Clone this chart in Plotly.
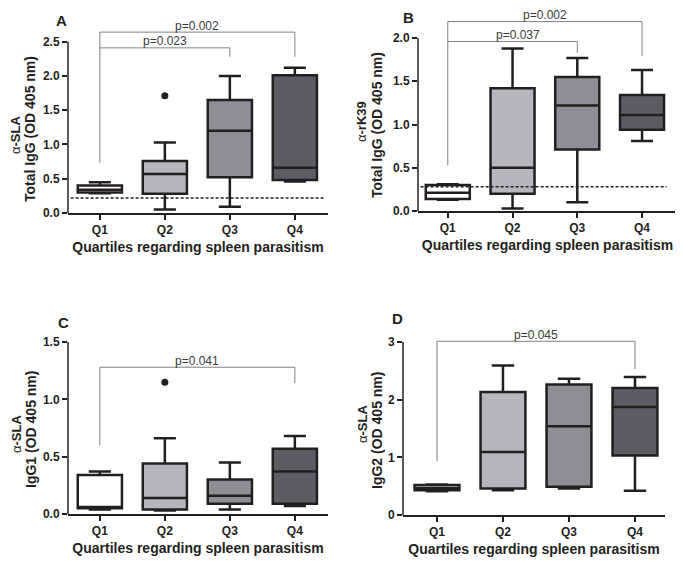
import plotly.graph_objects as go

# ---------------- data ----------------
categories = ["Q1", "Q2", "Q3", "Q4"]
box_colors = ["#ffffff", "#b6b6be", "#8e8e96", "#5c5c64"]

# Panel A: alpha-SLA total IgG
A_low = [0.29, 0.05, 0.09, 0.46]
A_q1 = [0.30, 0.28, 0.52, 0.48]
A_med = [0.34, 0.57, 1.20, 0.66]
A_q3 = [0.40, 0.76, 1.65, 2.01]
A_high = [0.45, 1.03, 2.00, 2.12]
A_out_x = [1]
A_out_y = [1.71]
A_cutoff = 0.22

# Panel B: alpha-rK39 total IgG
B_low = [0.13, 0.03, 0.10, 0.81]
B_q1 = [0.14, 0.20, 0.71, 0.94]
B_med = [0.21, 0.50, 1.22, 1.11]
B_q3 = [0.30, 1.42, 1.55, 1.34]
B_high = [0.31, 1.88, 1.77, 1.63]
B_out_x = []
B_out_y = []
B_cutoff = 0.28

# Panel C: alpha-SLA IgG1
C_low = [0.04, 0.03, 0.04, 0.07]
C_q1 = [0.05, 0.04, 0.09, 0.09]
C_med = [0.06, 0.14, 0.16, 0.37]
C_q3 = [0.34, 0.44, 0.30, 0.57]
C_high = [0.37, 0.66, 0.45, 0.68]
C_out_x = [1]
C_out_y = [1.15]

# Panel D: alpha-SLA IgG2
D_low = [0.41, 0.43, 0.46, 0.42]
D_q1 = [0.43, 0.46, 0.49, 1.03]
D_med = [0.47, 1.09, 1.54, 1.87]
D_q3 = [0.52, 2.13, 2.26, 2.20]
D_high = [0.53, 2.59, 2.36, 2.39]
D_out_x = []
D_out_y = []

# significance brackets: (from, to, bracket level, drop at 'to', label)
A_sig = [(0, 3, 2.64, 2.28, "p=0.002"), (0, 2, 2.41, 2.28, "p=0.023")]
A_sig_q1_drop = 0.73
B_sig = [(0, 3, 2.19, 1.79, "p=0.002"), (0, 2, 1.96, 1.83, "p=0.037")]
B_sig_q1_drop = 0.53
C_sig = [(0, 3, 1.28, 1.14, "p=0.041")]
C_sig_q1_drop = 0.60
D_sig = [(0, 3, 3.01, 2.53, "p=0.045")]
D_sig_q1_drop = 0.93

x_title = "Quartiles regarding spleen parasitism"

# ---------------- layout geometry ----------------
# the page body has an 8px margin, so the figure is drawn 8px in from the
# top-left corner of the window; positions below are window pixels.
OFF = 8
W, H = 683 - OFF, 563 - OFF
FONT = "Liberation Sans, Arial, sans-serif"
INK = "#231f20"


def px(xp):
    return (xp - OFF) / W


def py(yp):
    return 1 - (yp - OFF) / H


panels = [
    dict(key="A", low=A_low, q1=A_q1, med=A_med, q3=A_q3, high=A_high,
         ox=A_out_x, oy=A_out_y, cutoff=A_cutoff, sig=A_sig, drop=A_sig_q1_drop,
         xdom=(68, 328), ydom=(28, 213), xr=(-0.49, 3.51), yr=(0, 2.7),
         ytop=2.5, dtick=0.5, fmt=".1f", ant="α-SLA", yt="Total IgG (OD 405 nm)",
         ant_pos=(15, 135), yt_pos=(30, 129), letter_pos=(61, 20), dash_end=0.99),
    dict(key="B", low=B_low, q1=B_q1, med=B_med, q3=B_q3, high=B_high,
         ox=B_out_x, oy=B_out_y, cutoff=B_cutoff, sig=B_sig, drop=B_sig_q1_drop,
         xdom=(418, 677), ydom=(16.4, 211), xr=(-0.46, 3.54), yr=(0, 2.25),
         ytop=2.0, dtick=0.5, fmt=".1f", ant="α-rK39", yt="Total IgG (OD 405 nm)",
         ant_pos=(361, 122), yt_pos=(377, 125), letter_pos=(408, 17), dash_end=0.96),
    dict(key="C", low=C_low, q1=C_q1, med=C_med, q3=C_q3, high=C_high,
         ox=C_out_x, oy=C_out_y, cutoff=None, sig=C_sig, drop=C_sig_q1_drop,
         xdom=(68, 328), ydom=(342, 514), xr=(-0.49, 3.51), yr=(0, 1.5),
         ytop=1.5, dtick=0.5, fmt=".1f", ant="α-SLA", yt="IgG1 (OD 405 nm)",
         ant_pos=(16, 434), yt_pos=(31, 430), letter_pos=(63, 322), dash_end=0.97),
    dict(key="D", low=D_low, q1=D_q1, med=D_med, q3=D_q3, high=D_high,
         ox=D_out_x, oy=D_out_y, cutoff=None, sig=D_sig, drop=D_sig_q1_drop,
         xdom=(403, 665), ydom=(339, 515), xr=(-0.515, 3.455), yr=(0, 3.05),
         ytop=3, dtick=1, fmt="d", ant="α-SLA", yt="IgG2 (OD 405 nm)",
         ant_pos=(362, 424), yt_pos=(377, 431), letter_pos=(398, 318), dash_end=0.97),
]

fig = go.Figure()
shapes = []
annotations = []
layout_axes = {}

for i, p in enumerate(panels):
    n = "" if i == 0 else str(i + 1)
    xa, ya = "x" + n, "y" + n
    for j, cat in enumerate(categories):
        fig.add_trace(go.Box(
            x=[j], q1=[p["q1"][j]], median=[p["med"][j]], q3=[p["q3"][j]],
            lowerfence=[p["low"][j]], upperfence=[p["high"][j]],
            width=0.68, whiskerwidth=0.5, fillcolor=box_colors[j],
            line=dict(color=INK, width=2.5), boxpoints=False,
            hoverinfo="skip", showlegend=False, xaxis=xa, yaxis=ya,
        ))
    if p["ox"]:
        fig.add_trace(go.Scatter(
            x=p["ox"], y=p["oy"], mode="markers",
            marker=dict(color=INK, size=7), showlegend=False,
            xaxis=xa, yaxis=ya, hoverinfo="skip",
        ))

    nums = []
    v = 0.0
    while v <= p["ytop"] + 1e-9:
        nums.append(round(v, 3))
        v += p["dtick"]

    layout_axes["xaxis" + n] = dict(
        domain=[px(p["xdom"][0]), px(p["xdom"][1])], range=list(p["xr"]),
        anchor=ya, tickvals=list(range(len(categories))), ticktext=categories,
        ticks="outside", ticklen=5, tickwidth=1.5, tickcolor=INK,
        showline=True, linecolor=INK, linewidth=1.5, showgrid=False,
        zeroline=False, automargin=False,
        tickfont=dict(family=FONT, size=12, color=INK, weight="bold"),
        title=dict(text=x_title, standoff=6,
                   font=dict(family=FONT, size=14, color=INK, weight="bold")),
    )
    layout_axes["yaxis" + n] = dict(
        domain=[py(p["ydom"][1]), py(p["ydom"][0])], range=list(p["yr"]),
        anchor=xa, tickvals=nums, tickformat=p["fmt"],
        ticks="outside", ticklen=5, tickwidth=1.5, tickcolor=INK,
        showline=False, showgrid=False, zeroline=False, automargin=False,
        tickfont=dict(family=FONT, size=12, color=INK, weight="bold"),
    )

    # y axis line up to the top tick
    shapes.append(dict(type="line", xref=xa + " domain", yref=ya, x0=0, x1=0,
                       y0=0, y1=p["ytop"], line=dict(color=INK, width=1.5)))
    # cutoff dashed line
    if p["cutoff"] is not None:
        shapes.append(dict(type="line", xref=xa + " domain", yref=ya, x0=0.01,
                           x1=p["dash_end"], y0=p["cutoff"], y1=p["cutoff"],
                           line=dict(color=INK, width=1.5, dash="3px,2px")))
    # significance brackets
    top_level = max(s[2] for s in p["sig"])
    shapes.append(dict(type="line", xref=xa, yref=ya, x0=0, x1=0,
                       y0=p["drop"], y1=top_level,
                       line=dict(color="#808080", width=1)))
    for (a, b, lvl, dr, lab) in p["sig"]:
        shapes.append(dict(type="line", xref=xa, yref=ya, x0=a, x1=b,
                           y0=lvl, y1=lvl, line=dict(color="#808080", width=1)))
        shapes.append(dict(type="line", xref=xa, yref=ya, x0=b, x1=b,
                           y0=dr, y1=lvl, line=dict(color="#808080", width=1)))
        annotations.append(dict(xref=xa, yref=ya, x=(a + b) / 2 + (0.08 if b == 2 and p["key"] == "B" else 0),
                                y=lvl, text=lab, showarrow=False, yanchor="bottom",
                                xanchor="center", yshift=-1.5, borderpad=0,
                                font=dict(family=FONT, size=12, color="#3a3a3a")))
    # panel letter
    annotations.append(dict(xref="paper", yref="paper", x=px(p["letter_pos"][0]),
                            y=py(p["letter_pos"][1]), text=p["key"], showarrow=False,
                            xanchor="center", yanchor="middle",
                            font=dict(family=FONT, size=15, color=INK, weight="bold")))
    # y titles (two lines)
    annotations.append(dict(xref="paper", yref="paper", x=px(p["ant_pos"][0]),
                            y=py(p["ant_pos"][1]), text=p["ant"][0] + "<b>" + p["ant"][1:] + "</b>",
                            showarrow=False, textangle=-90, xanchor="center", yanchor="middle",
                            font=dict(family=FONT, size=13, color=INK)))
    annotations.append(dict(xref="paper", yref="paper", x=px(p["yt_pos"][0]),
                            y=py(p["yt_pos"][1]), text=p["yt"], showarrow=False,
                            textangle=-90, xanchor="center", yanchor="middle",
                            font=dict(family=FONT, size=14, color=INK, weight="bold")))

fig.update_layout(
    template="none",
    width=W, height=H, margin=dict(l=0, r=0, t=0, b=0, autoexpand=False),
    paper_bgcolor="white", plot_bgcolor="white",
    shapes=shapes, annotations=annotations, **layout_axes,
)

fig.write_html("out.html")
